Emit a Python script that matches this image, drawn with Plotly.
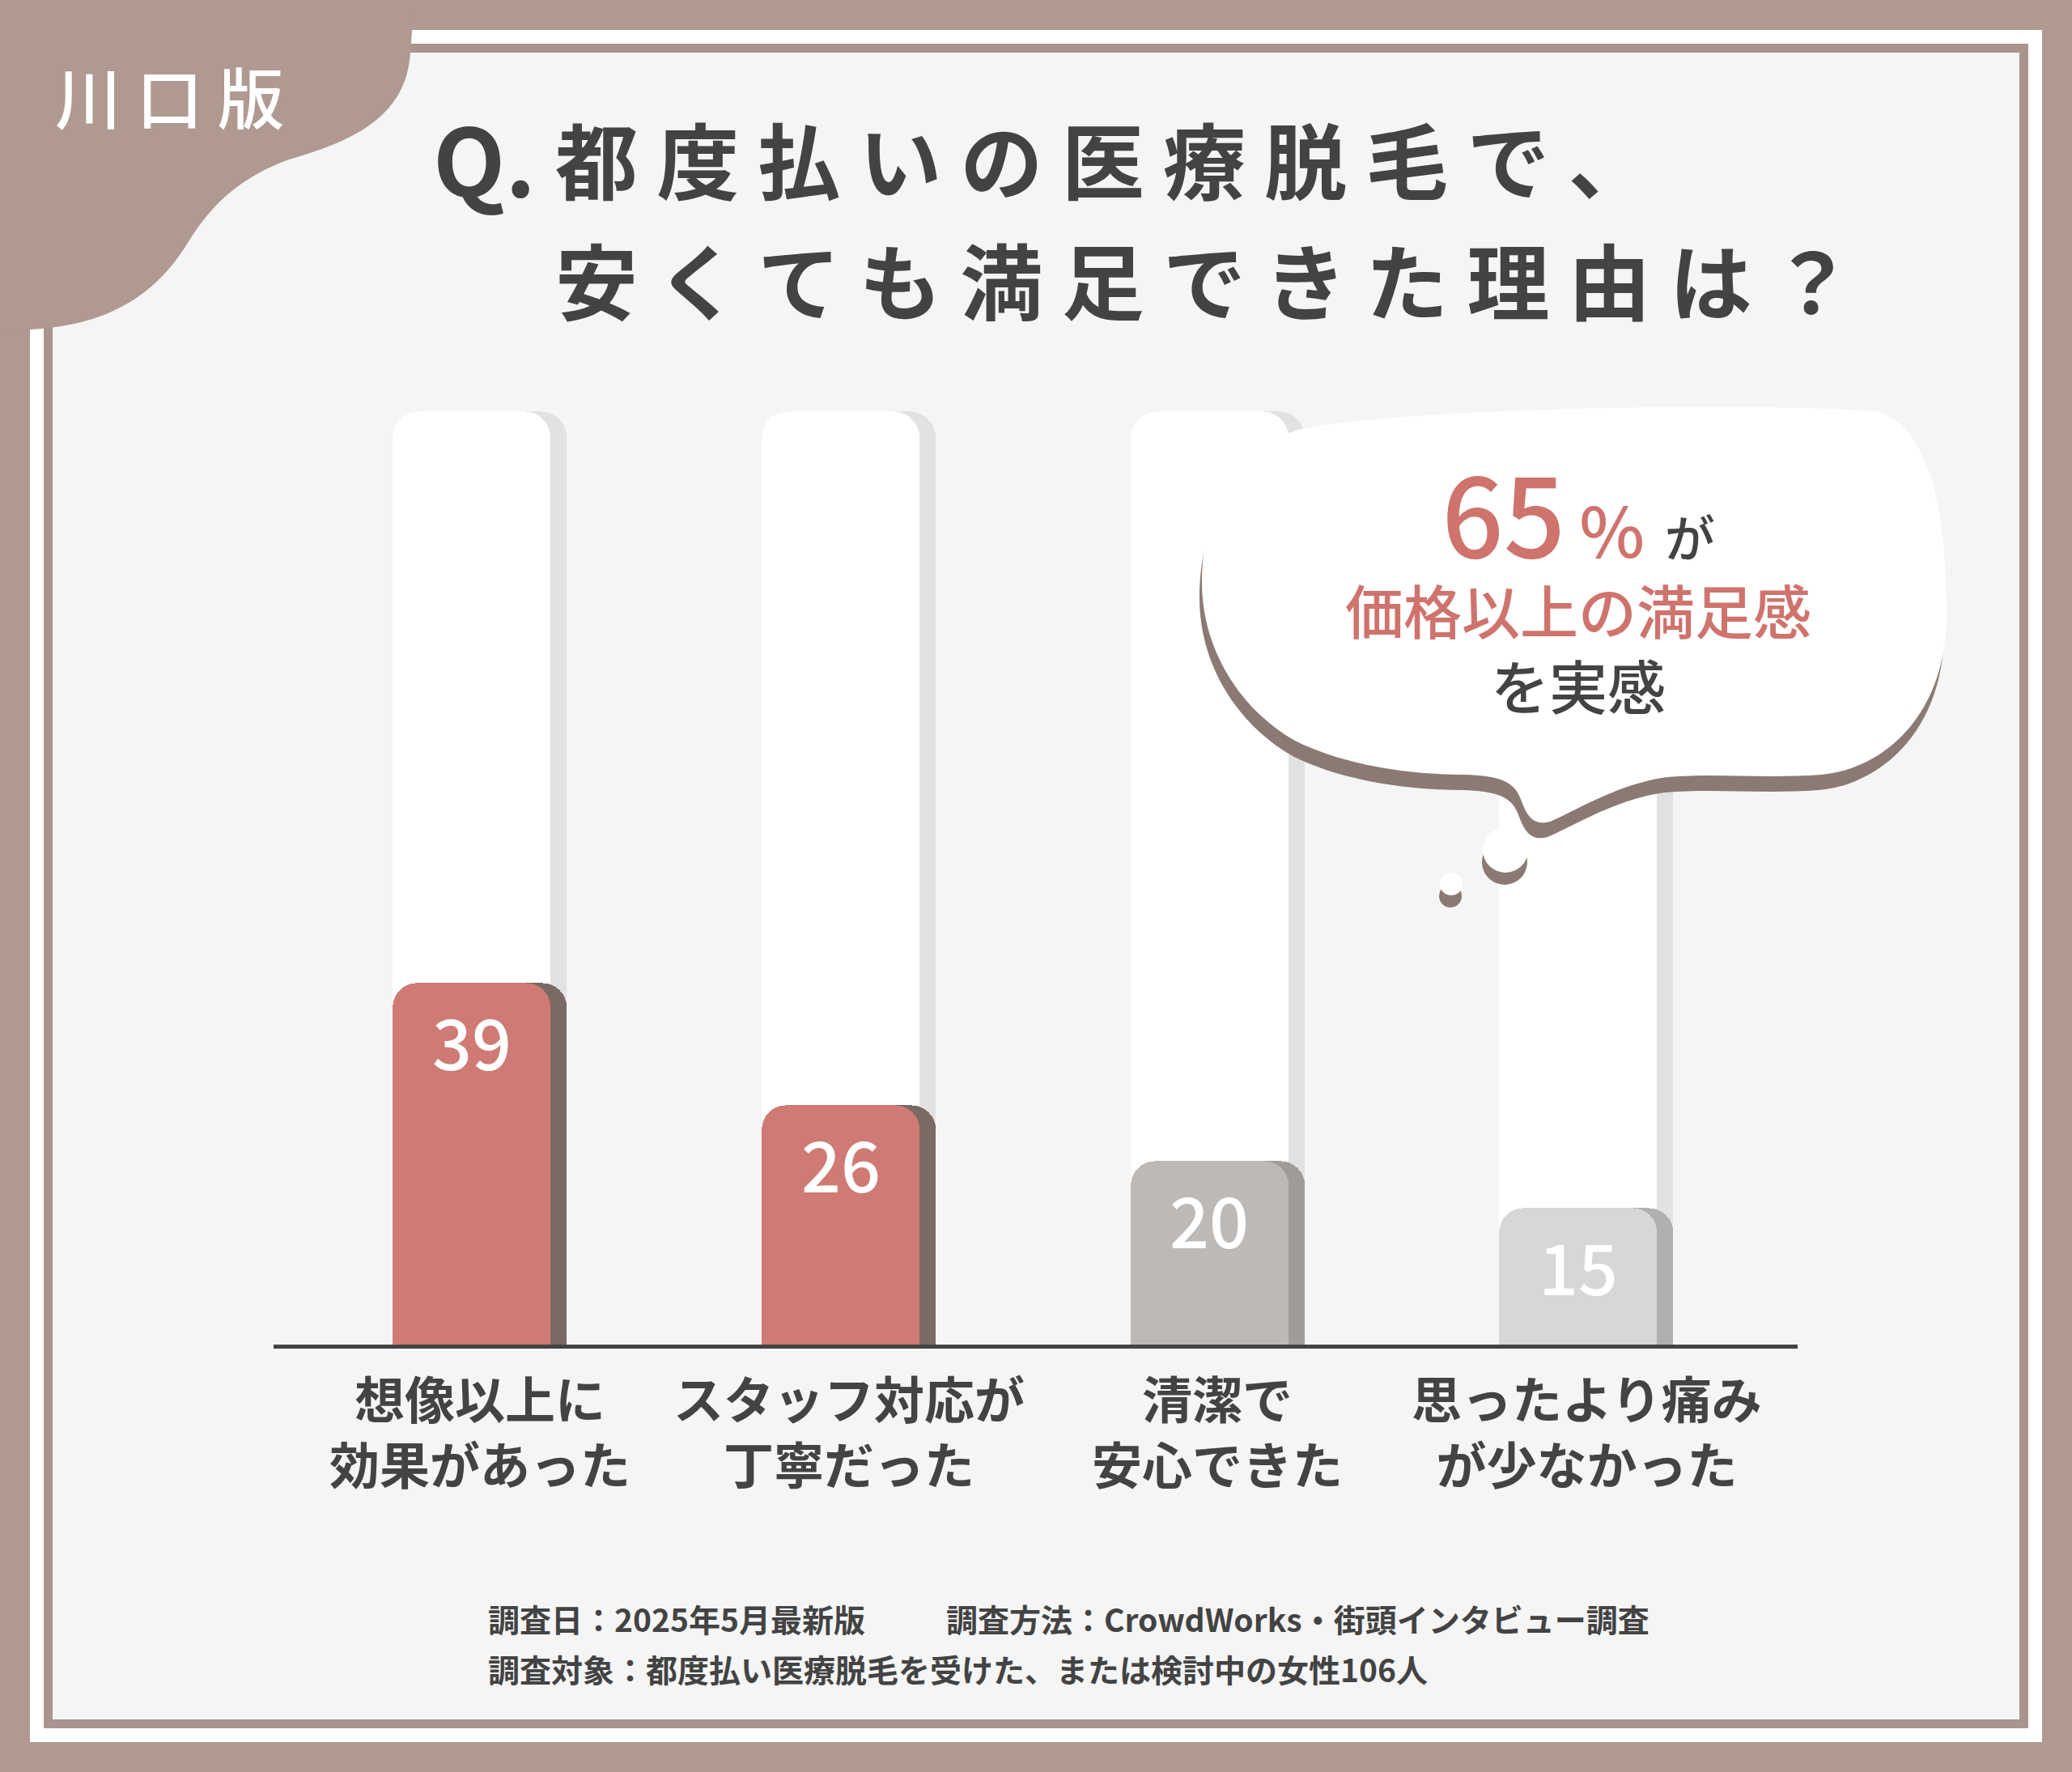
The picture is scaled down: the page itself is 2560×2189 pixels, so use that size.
import plotly.graph_objects as go

W, H = 2560, 2189

# ---------------- data ----------------
categories = ["想像以上に効果があった", "スタッフ対応が丁寧だった", "清潔で安心できた", "思ったより痛みが少なかった"]
label_line1 = ["想像以上に", "スタッフ対応が", "清潔で", "思ったより痛み"]
label_line2 = ["効果があった", "丁寧だった", "安心できた", "が少なかった"]
values = [39, 26, 20, 15]
track_values = [100, 100, 100, 100]

bar_colors = ["#cf7a74", "#cf7a74", "#bdb9b7", "#d8d7d6"]
shadow_colors = ["#7b6964", "#7b6964", "#a09c9a", "#b1b0af"]

badge_text = "川口版"
title_q = "Q."
title_line1 = "都度払いの医療脱毛で、"
title_line2 = "安くても満足できた理由は？"
bubble_number = "65"
bubble_percent = "%"
bubble_ga = "が"
bubble_line2 = "価格以上の満足感"
bubble_line3 = "を実感"
footer_date = "調査日：2025年5月最新版"
footer_method = "調査方法：CrowdWorks・街頭インタビュー調査"
footer_target = "調査対象：都度払い医療脱毛を受けた、または検討中の女性106人"

# ---------------- styling constants ----------------
JP = "Noto Sans CJK JP"
BROWN = "#b09991"
LINE_BROWN = "#a8958e"
DARK = "#434343"
SALMON = "#cf736d"
BUBBLE_SHADOW = "#8b7a73"

ZERO_Y = 1666.0          # pixel row of value 0
PPU = 11.58              # pixels per unit
YMAX = 120.0
FIRST_CX = 583.0
STEP = 455.7
BAR_PX = 195.0
SHADOW_PX = 20.0


def px(x):
    return x / W


def py(y):
    return 1 - y / H


def path(segments):
    out = []
    for cmd, pts in segments:
        coords = " ".join(f"{px(x):.5f},{py(y):.5f}" for x, y in pts)
        out.append(f"{cmd} {coords}" if pts else cmd)
    return " ".join(out)


def offset_segments(segs, dx, dy):
    return [(c, [(x + dx, y + dy) for x, y in p]) for c, p in segs]


def spaced(s, sep=" "):
    return sep.join(list(s))


bar_w = BAR_PX / STEP
shadow_d = SHADOW_PX / STEP

fig = go.Figure()

# track shadows + tracks (main axes)
fig.add_trace(go.Bar(x=categories, y=track_values, width=bar_w, offset=-bar_w / 2 + shadow_d,
                     marker=dict(color="#e2e2e2", cornerradius=32, line_width=0), hoverinfo="skip"))
fig.add_trace(go.Bar(x=categories, y=track_values, width=bar_w, offset=-bar_w / 2,
                     marker=dict(color="#ffffff", cornerradius=32, line_width=0), hoverinfo="skip"))
# bar shadows + bars (overlaid axes so their tops get rounded too)
fig.add_trace(go.Bar(x=categories, y=values, width=bar_w, offset=-bar_w / 2 + shadow_d, xaxis="x2", yaxis="y2",
                     marker=dict(color=shadow_colors, cornerradius=30, line_width=0), hoverinfo="skip"))
fig.add_trace(go.Bar(x=categories, y=values, width=bar_w, offset=-bar_w / 2, xaxis="x2", yaxis="y2",
                     marker=dict(color=bar_colors, cornerradius=30, line_width=0)))

shapes = []
shapes.append(dict(type="rect", xref="paper", yref="paper", x0=px(37), x1=px(2523), y0=py(2152), y1=py(37),
                   fillcolor="#ffffff", line_width=0, layer="below"))
shapes.append(dict(type="rect", xref="paper", yref="paper", x0=px(54), x1=px(2506), y0=py(2135), y1=py(54),
                   fillcolor=LINE_BROWN, line_width=0, layer="below"))
shapes.append(dict(type="rect", xref="paper", yref="paper", x0=px(65), x1=px(2495), y0=py(2124), y1=py(65),
                   fillcolor="#f5f5f5", line_width=0, layer="below"))
blob = [("M", [(0, 0)]), ("L", [(512, 0)]), ("L", [(507, 65)]),
        ("C", [(502, 140), (445, 172), (357, 197)]),
        ("C", [(290, 222), (258, 258), (232, 300)]),
        ("C", [(190, 368), (130, 402), (38, 407)]),
        ("L", [(0, 409)]), ("Z", [])]
shapes.append(dict(type="path", xref="paper", yref="paper", path=path(blob),
                   fillcolor=BROWN, line_width=0, layer="below"))

bubble = [("M", [(1600, 532)]),
          ("C", [(1700, 505), (2150, 496), (2320, 508)]),
          ("C", [(2388, 530), (2405, 640), (2405, 760)]),
          ("C", [(2405, 880), (2330, 950), (2250, 957)]),
          ("C", [(2180, 962), (2120, 955), (2060, 960)]),
          ("C", [(2000, 968), (1950, 1000), (1915, 1015)]),
          ("C", [(1890, 1022), (1884, 1000), (1878, 985)]),
          ("C", [(1870, 965), (1850, 958), (1810, 957)]),
          ("C", [(1740, 957), (1660, 945), (1600, 915)]),
          ("C", [(1530, 875), (1485, 800), (1485, 720)]),
          ("C", [(1485, 620), (1530, 560), (1600, 532)]),
          ("Z", [])]
shapes.append(dict(type="path", xref="paper", yref="paper", path=path(offset_segments(bubble, -3, 19)),
                   fillcolor=BUBBLE_SHADOW, line_width=0, layer="above"))
shapes.append(dict(type="path", xref="paper", yref="paper", path=path(bubble),
                   fillcolor="#ffffff", line_width=0, layer="above"))
for cx, cy, r in [(1860, 1050, 28), (1793, 1092, 14)]:
    shapes.append(dict(type="circle", xref="paper", yref="paper", x0=px(cx - r - 1), x1=px(cx + r - 1),
                       y0=py(cy + 15 + r), y1=py(cy + 15 - r), fillcolor=BUBBLE_SHADOW, line_width=0, layer="above"))
    shapes.append(dict(type="circle", xref="paper", yref="paper", x0=px(cx - r), x1=px(cx + r),
                       y0=py(cy + r), y1=py(cy - r), fillcolor="#ffffff", line_width=0, layer="above"))

shapes.append(dict(type="line", xref="paper", yref="y", x0=px(338), x1=px(2221), y0=0, y1=0,
                   line=dict(color=DARK, width=10), layer="above"))

ann = []


def text(t, x, y, size, color=DARK, xanchor="left", yanchor="middle", weight="bold", family=JP):
    ann.append(dict(text=t, x=px(x), y=py(y), xref="paper", yref="paper", xanchor=xanchor, yanchor=yanchor,
                    showarrow=False, align="center",
                    font=dict(family=family, size=size, color=color, weight=weight)))


# badge
text(spaced(badge_text), 66, 118, 82, color="#ffffff", weight=500)
# title
text(title_q, 664, 192, 116, xanchor="right")
text(spaced(title_line1), 684, 194, 102)
text(spaced(title_line2), 684, 343, 102)

# bubble text (one block, three lines)
bubble_html = (f"<span style='font-size:134px'>{bubble_number}</span>"
               f"<span style='font-size:86px'>\u2009{bubble_percent}</span>"
               f"<span style='font-size:110px'> </span>"
               f"<span style='font-size:62px;color:{DARK}'>{bubble_ga}</span>"
               f"<br>{bubble_line2}<br><span style='color:{DARK}'>{bubble_line3}</span>")
text(bubble_html, 1950, 899, 72, color=SALMON, xanchor="center", yanchor="bottom", weight=500)

# footer
text(footer_date, 601, 1999, 39)
text(footer_method, 1167, 1999, 39)
text(footer_target, 601, 2061, 39)

# value labels inside bars
for c, v in zip(categories, values):
    ann.append(dict(text=str(v), x=c, y=v, xref="x", yref="y", xanchor="center", yanchor="top",
                    yshift=-6, showarrow=False, font=dict(family=JP, size=86, color="#ffffff", weight=500)))

# category labels
for c, l1, l2 in zip(categories, label_line1, label_line2):
    ann.append(dict(text=l1 + "<br>" + l2, x=c, y=py(1766),
                    xref="x", yref="paper", xanchor="center", yanchor="middle", xshift=10, showarrow=False,
                    align="center", font=dict(family=JP, size=62, color=DARK, weight="bold")))

axis_common = dict(showticklabels=False, showgrid=False, zeroline=False, showline=False, ticks="")
x_dom = [px(FIRST_CX - STEP / 2), px(FIRST_CX - STEP / 2 + 4 * STEP)]
y_dom = [py(ZERO_Y), py(ZERO_Y - YMAX * PPU)]

fig.update_layout(
    width=W, height=H, autosize=False,
    margin=dict(l=0, r=0, t=0, b=0, pad=0),
    paper_bgcolor=BROWN, plot_bgcolor="rgba(0,0,0,0)",
    showlegend=False, barmode="overlay", bargap=0,
    shapes=shapes, annotations=ann,
    xaxis=dict(domain=x_dom, range=[-0.5, 3.5], type="category", categoryorder="array",
               categoryarray=categories, **axis_common),
    yaxis=dict(domain=y_dom, range=[0, YMAX], **axis_common),
    xaxis2=dict(domain=x_dom, range=[-0.5, 3.5], type="category", categoryorder="array",
                categoryarray=categories, overlaying="x", **axis_common),
    yaxis2=dict(domain=y_dom, range=[0, YMAX], overlaying="y", **axis_common),
)

fig.write_html("out.html", config={"displayModeBar": False},
               post_script="document.body.style.margin='0';document.body.style.overflow='hidden';")
